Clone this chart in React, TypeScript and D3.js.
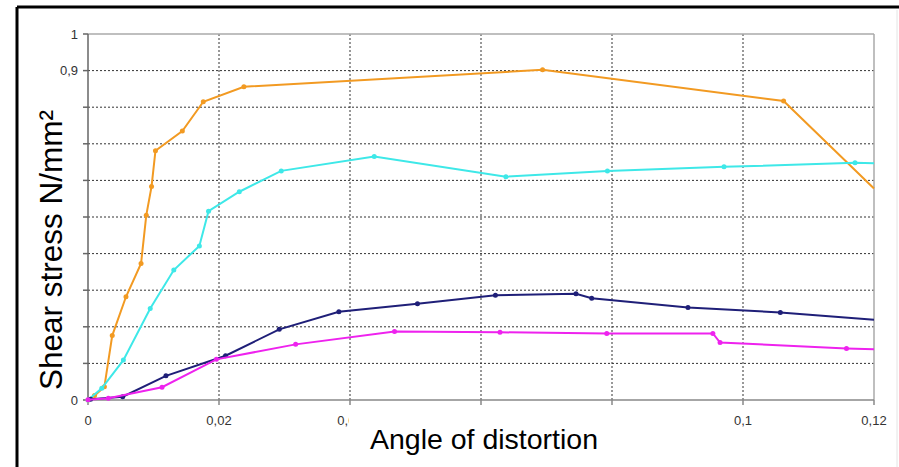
import * as d3 from 'd3';

// angle of distortion (x) and shear stress N/mm² (y) per series
const orangeX = [0, 0.001, 0.0025, 0.0037, 0.0058, 0.0081, 0.0089, 0.0097, 0.0103, 0.0144, 0.0176, 0.0238, 0.0694, 0.1062, 0.12];
const orangeY = [0, 0.012, 0.036, 0.176, 0.282, 0.373, 0.505, 0.583, 0.681, 0.735, 0.815, 0.856, 0.902, 0.817, 0.578];

const cyanX = [0, 0.0021, 0.0054, 0.0095, 0.0131, 0.017, 0.0184, 0.0231, 0.0295, 0.0437, 0.0638, 0.0793, 0.0971, 0.1171, 0.12];
const cyanY = [0, 0.032, 0.109, 0.25, 0.355, 0.421, 0.516, 0.569, 0.626, 0.665, 0.61, 0.626, 0.637, 0.648, 0.647];

const navyX = [0.0004, 0.0053, 0.0119, 0.021, 0.0292, 0.0383, 0.0503, 0.0622, 0.0745, 0.0769, 0.0916, 0.1057, 0.12];
const navyY = [0.002, 0.009, 0.066, 0.121, 0.193, 0.241, 0.263, 0.286, 0.29, 0.278, 0.253, 0.239, 0.219];

const magentaX = [0, 0.0031, 0.0113, 0.0196, 0.0317, 0.0468, 0.0629, 0.0792, 0.0954, 0.0965, 0.1158, 0.12];
const magentaY = [0.001, 0.005, 0.035, 0.111, 0.152, 0.187, 0.185, 0.182, 0.182, 0.157, 0.141, 0.139];

const xTicks = [0, 0.02, 0.04, 0.06, 0.08, 0.1, 0.12];
const xTickLabels = ['0', '0,02', '0,04', '', '', '0,1', '0,12'];
const yTicks = [0, 0.1, 0.2, 0.3, 0.4, 0.5, 0.6, 0.7, 0.8, 0.9, 1];
const yTickLabels = ['0', '', '', '', '', '', '', '', '', '0,9', '1'];

const series = [
  { xs: orangeX, ys: orangeY, color: '#f29a22' },
  { xs: cyanX, ys: cyanY, color: '#3ee8e8' },
  { xs: navyX, ys: navyY, color: '#1f1f78' },
  { xs: magentaX, ys: magentaY, color: '#ee22ee' },
];

const W = 899;
const H = 467;
const left = 88, right = 874, top = 34, bottom = 400;

export default function App() {
  const x = d3.scaleLinear().domain([0, 0.12]).range([left, right]);
  const y = d3.scaleLinear().domain([0, 1]).range([bottom, top]);
  const line = d3.line<[number, number]>().x(d => x(d[0])).y(d => y(d[1]));

  return (
    <svg width={W} height={H} style={{ position: 'absolute', left: 0, top: 0, background: '#fff' }}
      fontFamily="Arial, 'Liberation Sans', sans-serif">
      <defs>
        <clipPath id="cut04">
          <rect x={0} y={0} width={349} height={H} />
        </clipPath>
      </defs>
      {/* outer frame */}
      <line x1={17} y1={7} x2={W} y2={7} stroke="#000" strokeWidth={3} />
      <line x1={17} y1={7} x2={17} y2={H} stroke="#000" strokeWidth={3} />
      <line x1={897} y1={10} x2={897} y2={H} stroke="#e4e4e4" strokeWidth={1} />

      {/* grid */}
      {yTicks.slice(1, -1).map(t => (
        <line key={'gy' + t} x1={left} x2={right} y1={y(t)} y2={y(t)} stroke="#333" strokeWidth={1} strokeDasharray="2,2" />
      ))}
      {xTicks.slice(1, -1).map(t => (
        <line key={'gx' + t} x1={x(t)} x2={x(t)} y1={top} y2={bottom} stroke="#333" strokeWidth={1} strokeDasharray="2,2" />
      ))}
      <line x1={left} x2={right} y1={top} y2={top} stroke="#aaa" strokeWidth={1.5} />
      <line x1={right} x2={right} y1={top} y2={bottom} stroke="#aaa" strokeWidth={1.5} />

      {/* axes */}
      <line x1={left} x2={right} y1={bottom} y2={bottom} stroke="#888" strokeWidth={1.5} />
      <line x1={left} x2={left} y1={top} y2={bottom} stroke="#666" strokeWidth={1.5} />
      {yTicks.map((t, i) => (
        <g key={'ty' + t}>
          <line x1={left - 5} x2={left} y1={y(t)} y2={y(t)} stroke="#666" strokeWidth={1.5} />
          {yTickLabels[i] && (
            <text x={left - 10} y={y(t)} dy="0.35em" textAnchor="end" fontSize={13} fill="#333">{yTickLabels[i]}</text>
          )}
        </g>
      ))}
      {xTicks.map((t, i) => (
        <g key={'tx' + t}>
          <line x1={x(t)} x2={x(t)} y1={bottom} y2={bottom + 5} stroke="#888" strokeWidth={1.5} />
          {xTickLabels[i] && (
            <text x={x(t)} y={425} textAnchor="middle" fontSize={13} fill="#333"
              clipPath={t === 0.04 ? 'url(#cut04)' : undefined}>{xTickLabels[i]}</text>
          )}
        </g>
      ))}

      {/* series */}
      {series.map((s, si) => {
        const pts = s.xs.map((v, i) => [v, s.ys[i]] as [number, number]);
        return (
          <g key={'s' + si}>
            <path d={line(pts) || ''} fill="none" stroke={s.color} strokeWidth={2} />
            {pts.slice(0, -1).map((p, i) => (
              <circle key={i} cx={x(p[0])} cy={y(p[1])} r={2.5} fill={s.color} />
            ))}
          </g>
        );
      })}

      {/* axis titles */}
      <text x={484} y={449} textAnchor="middle" fontSize={28.5} fill="#000">Angle of distortion</text>
      <text transform="translate(62,250) rotate(-90)" textAnchor="middle" fontSize={31.5} fill="#000">Shear stress N/mm²</text>
    </svg>
  );
}
